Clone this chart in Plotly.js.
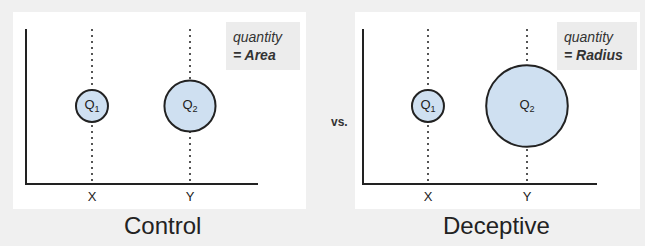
<!DOCTYPE html>
<html><head><meta charset="utf-8">
<script src="https://cdn.plot.ly/plotly-3.0.1.min.js"></script>
<style>html,body{margin:0;padding:0;background:#efefef;}</style>
</head><body><div id="chart" style="width:645px;height:246px;"></div>
<script>
// data
const categories = ['X', 'Y'];
const bubbleLabels = ['Q<sub>1</sub>', 'Q<sub>2</sub>'];
const quantities = [1, 2.55];
const panelTitles = ['Control', 'Deceptive'];
const encodingNotes = ['<i>quantity</i><br><b><i>= Area</i></b>', '<i>quantity</i><br><b><i>= Radius</i></b>'];

const W = 645, H = 246;
const px = v => v / W, py = v => 1 - v / H;

const markerBase = {color: '#cfe0f1', line: {color: '#222', width: 2}, opacity: 1};
const textFont = {family: 'Liberation Sans, Arial', size: 13, color: '#222'};

const traces = [
  {x: categories, y: [0.5, 0.5], xaxis: 'x', yaxis: 'y', type: 'scatter', mode: 'markers+text',
   text: bubbleLabels, textposition: 'middle center', textfont: textFont, hoverinfo: 'none',
   marker: Object.assign({size: quantities, sizemode: 'area', sizeref: 1 / 512}, markerBase)},
  {x: categories, y: [0.5, 0.5], xaxis: 'x2', yaxis: 'y2', type: 'scatter', mode: 'markers+text',
   text: bubbleLabels, textposition: 'middle center', textfont: textFont, hoverinfo: 'none',
   marker: Object.assign({size: quantities, sizemode: 'diameter', sizeref: 1 / 32}, markerBase)}
];

const xBase = {type: 'category', showline: true, linecolor: '#222', linewidth: 2, ticks: '',
  showgrid: true, gridcolor: '#555', gridwidth: 2, griddash: '2px,4px', zeroline: false,
  tickfont: {family: 'Liberation Sans, Arial', size: 13, color: '#222'}, fixedrange: true};
const yBase = {range: [0, 1], showline: true, linecolor: '#222', linewidth: 2, showgrid: false,
  zeroline: false, showticklabels: false, ticks: '', fixedrange: true};

const layout = {
  width: W, height: H, margin: {l: 0, r: 0, t: 0, b: 0},
  paper_bgcolor: '#f0f0f0', plot_bgcolor: 'rgba(0,0,0,0)', showlegend: false,
  xaxis: Object.assign({}, xBase, {domain: [px(27), px(258)], range: [-0.663, 1.694], anchor: 'y'}),
  yaxis: Object.assign({}, yBase, {domain: [py(183), py(29)], anchor: 'x'}),
  xaxis2: Object.assign({}, xBase, {domain: [px(364), px(597)], range: [-0.646, 1.707], anchor: 'y2'}),
  yaxis2: Object.assign({}, yBase, {domain: [py(183), py(29)], anchor: 'x2'}),
  shapes: [
    {type: 'rect', xref: 'paper', yref: 'paper', x0: px(13), x1: px(306), y0: py(209), y1: py(12),
     fillcolor: '#ffffff', line: {width: 0}, layer: 'below'},
    {type: 'rect', xref: 'paper', yref: 'paper', x0: px(355), x1: px(640), y0: py(209), y1: py(12),
     fillcolor: '#ffffff', line: {width: 0}, layer: 'below'},
    {type: 'rect', xref: 'paper', yref: 'paper', x0: px(226), x1: px(300), y0: py(70), y1: py(22),
     fillcolor: '#ececec', line: {width: 0}, layer: 'below'},
    {type: 'rect', xref: 'paper', yref: 'paper', x0: px(557), x1: px(637), y0: py(70), y1: py(22),
     fillcolor: '#ececec', line: {width: 0}, layer: 'below'}
  ],
  annotations: [
    {xref: 'paper', yref: 'paper', x: px(231), y: py(46), xanchor: 'left', yanchor: 'middle', align: 'left',
     text: encodingNotes[0], showarrow: false, font: {family: 'Liberation Sans, Arial', size: 14, color: '#333'}},
    {xref: 'paper', yref: 'paper', x: px(562), y: py(46), xanchor: 'left', yanchor: 'middle', align: 'left',
     text: encodingNotes[1], showarrow: false, font: {family: 'Liberation Sans, Arial', size: 14, color: '#333'}},
    {xref: 'paper', yref: 'paper', x: px(162), y: py(225), xanchor: 'center', yanchor: 'middle',
     text: panelTitles[0], showarrow: false, font: {family: 'Liberation Sans, Arial', size: 24, color: '#222'}},
    {xref: 'paper', yref: 'paper', x: px(496), y: py(225), xanchor: 'center', yanchor: 'middle',
     text: panelTitles[1], showarrow: false, font: {family: 'Liberation Sans, Arial', size: 24, color: '#222'}},
    {xref: 'paper', yref: 'paper', x: px(339), y: py(122), xanchor: 'center', yanchor: 'middle',
     text: '<b>vs.</b>', showarrow: false, font: {family: 'Liberation Sans, Arial', size: 12, color: '#333'}}
  ]
};

Plotly.newPlot('chart', traces, layout, {displayModeBar: false, staticPlot: true});
</script></body></html>
